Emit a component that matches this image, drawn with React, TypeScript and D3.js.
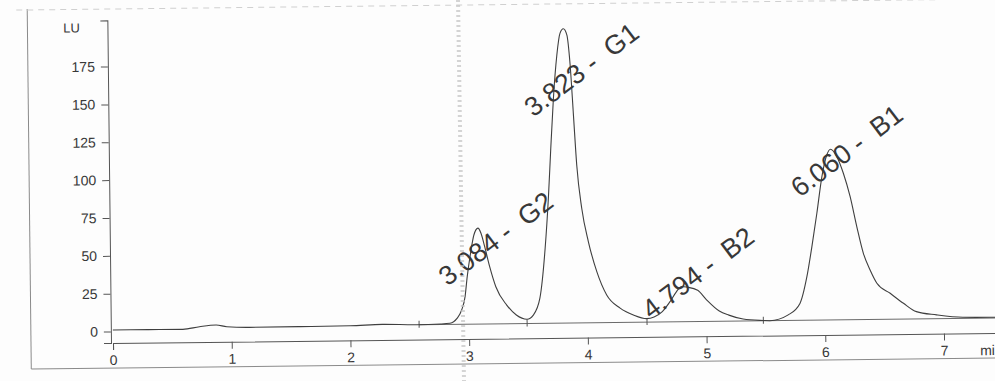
import * as d3 from "d3";
import { useEffect, useRef } from "react";

const W = 995;
const H = 381;

const COLORS = {
  paper: "#fdfdfd",
  trace: "#3f3f3f", // pen trace
  axis: "#555555",
  text: "#383838",
  frame: "#8a8a8a",
  streak: "#c4c4c4", // scanner streak
};

// signal trace: retention time (min) / signal (LU)
const traceTimes = [
  0.0, 0.3, 0.59, 0.73, 0.87, 0.96, 1.15, 1.58, 2.0, 2.27, 2.56, 2.76, 2.84,
  2.9, 2.94, 2.97, 2.99, 3.02, 3.05, 3.085, 3.11, 3.14, 3.18, 3.23, 3.32, 3.4,
  3.49, 3.543, 3.6, 3.649, 3.681, 3.706, 3.733, 3.766, 3.795, 3.823, 3.852,
  3.877, 3.9, 3.923, 3.961, 4.014, 4.082, 4.163, 4.275, 4.386, 4.497, 4.56,
  4.63, 4.7, 4.75, 4.794, 4.84, 4.93, 5.0, 5.11, 5.19, 5.31, 5.48, 5.535,
  5.69, 5.79, 5.851, 5.896, 5.941, 5.987, 6.03, 6.062, 6.115, 6.168, 6.223,
  6.276, 6.329, 6.384, 6.44, 6.551, 6.662, 6.77, 6.94, 7.16, 7.39, 7.5,
];
const traceValues = [
  1.0, 1.0, 0.9, 2.5, 3.5, 2.3, 1.7, 1.8, 2.0, 2.7, 2.2, 2.5, 2.9, 6.1, 11.6,
  20.4, 33.6, 48.9, 61.0, 65.5, 62.1, 53.2, 40.0, 26.7, 14.5, 7.9, 5.0, 7.7,
  18.8, 51.7, 84.7, 117.7, 150.7, 179.3, 193.7, 196.5, 192.5, 172.6, 139.6,
  106.5, 77.9, 55.7, 35.9, 20.4, 11.6, 7.0, 4.5, 5.5, 9.0, 16.0, 22.0, 25.5,
  25.0, 22.8, 16.8, 9.0, 6.2, 3.5, 2.4, 2.2, 5.9, 13.4, 31.0, 50.8, 72.8,
  97.0, 111.2, 115.0, 110.0, 99.0, 83.5, 63.7, 46.0, 34.9, 26.1, 19.4, 12.7,
  7.1, 4.8, 3.0, 2.8, 2.8,
];

// peak annotations
const peakTimes = [3.084, 3.823, 4.794, 6.06];
const peakNames = ["G2", "G1", "B2", "B1"];
const labelLevels = [27, 138, 3.5, 83]; // LU where each label text begins

// integration baseline and its start/stop marks
const baselineTimes = [2.58, 7.5];
const baselineValues = [2.2, 2.3];
const markerTimes = [2.58, 3.49, 4.5, 5.48];

const xMajor = [0, 1, 2, 3, 4, 5, 6, 7];
const yMajor = [0, 25, 50, 75, 100, 125, 150, 175];

const App = () => {
  const svgRef = useRef<SVGSVGElement>(null);

  useEffect(() => {
    const svg = d3.select(svgRef.current);
    svg.selectAll("*").remove();

    const x = d3.scaleLinear().domain([0, 7]).range([113, 944]);
    const y = d3.scaleLinear().domain([0, 175]).range([331.5, 66.5]);
    const xAxisScale = x.copy().domain([0, 7.5]).range([x(0), x(7.5)]);
    const yAxisScale = y
      .copy()
      .domain([-7.6, 205.5])
      .range([y(-7.6), y(205.5)]);
    const axisY = y(-7.6);
    const axisX = 111;
    const font = "'Liberation Sans', Arial, sans-serif";

    svg
      .append("rect")
      .attr("width", W)
      .attr("height", H)
      .attr("fill", COLORS.paper);

    // the scan is slightly tilted
    const g = svg.append("g").attr("transform", `rotate(-0.65, 113, ${axisY})`);

    // paper frame
    g.append("line")
      .attr("x1", 31).attr("x2", 31).attr("y1", 8).attr("y2", 368)
      .attr("stroke", COLORS.frame).attr("stroke-width", 1);
    g.append("line")
      .attr("x1", 31).attr("x2", 1010).attr("y1", 368).attr("y2", 368)
      .attr("stroke", COLORS.frame).attr("stroke-width", 1);
    g.append("line")
      .attr("x1", 20).attr("x2", 1010).attr("y1", 9).attr("y2", 9)
      .attr("stroke", "#d0d0d0").attr("stroke-width", 1)
      .attr("stroke-dasharray", "6,5");

    // x axis
    const xMinor = d3.range(0, 7.5, 0.2).filter((t) => Math.abs(t - Math.round(t)) > 0.01);
    const xa = g.append("g").attr("transform", `translate(0, ${axisY})`);
    xa.call(
      d3.axisBottom(xAxisScale).tickValues(xMinor).tickSize(4).tickFormat(() => "")
    );
    xa.call(
      d3.axisBottom(xAxisScale).tickValues(xMajor).tickSize(7).tickPadding(5).tickFormat(d3.format("d"))
    );
    xa.selectAll("path, line").attr("stroke", COLORS.axis);
    xa.selectAll("text")
      .attr("fill", COLORS.text)
      .style("font-size", "14px")
      .style("font-family", font);

    // axis unit, cut by the right edge as on the scan
    g.append("text")
      .attr("x", 980)
      .attr("y", axisY + 22)
      .attr("fill", COLORS.text)
      .style("font-size", "14px")
      .style("font-family", font)
      .text("min");

    // y axis
    const yMinor = d3.range(-5, 206, 5).filter((v) => v % 25 !== 0);
    const ya = g.append("g").attr("transform", `translate(${axisX}, 0)`);
    ya.call(
      d3.axisLeft(yAxisScale).tickValues(yMinor).tickSize(3.5).tickFormat(() => "")
    );
    ya.call(
      d3.axisLeft(yAxisScale).tickValues(yMajor).tickSize(7).tickPadding(6).tickFormat(d3.format("d"))
    );
    ya.selectAll("path, line").attr("stroke", COLORS.axis);
    ya.selectAll("text")
      .attr("fill", COLORS.text)
      .style("font-size", "14px")
      .style("font-family", font);

    g.append("text")
      .attr("x", 75)
      .attr("y", 32)
      .attr("text-anchor", "middle")
      .attr("fill", COLORS.text)
      .style("font-size", "13px")
      .style("font-family", font)
      .text("LU");

    // integration baseline
    const base = d3.zip(baselineTimes, baselineValues) as [number, number][];
    g.append("path")
      .attr("d", d3.line().x((d) => x(d[0])).y((d) => y(d[1]))(base))
      .attr("fill", "none")
      .attr("stroke", "#6a6a6a")
      .attr("stroke-width", 1);

    const baseAt = d3.scaleLinear().domain(baselineTimes).range(baselineValues);
    g.selectAll(".marker")
      .data(markerTimes)
      .enter()
      .append("line")
      .attr("x1", (d) => x(d))
      .attr("x2", (d) => x(d))
      .attr("y1", (d) => y(baseAt(d)) - 4)
      .attr("y2", (d) => y(baseAt(d)) + 3)
      .attr("stroke", "#555")
      .attr("stroke-width", 1);

    // signal trace
    const pts = d3.zip(traceTimes, traceValues) as [number, number][];
    const line = d3
      .line<[number, number]>()
      .x((d) => x(d[0]))
      .y((d) => y(d[1]))
      .curve(d3.curveMonotoneX);
    g.append("path")
      .attr("d", line(pts))
      .attr("fill", "none")
      .attr("stroke", COLORS.trace)
      .attr("stroke-width", 1.1);

    // peak labels
    peakTimes.forEach((t, i) => {
      const lx = x(t) - 31;
      const ly = y(labelLevels[i]);
      g.append("text")
        .attr("transform", `translate(${lx}, ${ly}) rotate(-36.5)`)
        .attr("fill", COLORS.text)
        .style("font-size", "27px")
        .style("font-family", font)
        .style("white-space", "pre")
        .text(`${t.toFixed(3)} -  ${peakNames[i]}`);
    });

    // scanner streak
    svg
      .append("line")
      .attr("x1", 458).attr("x2", 464).attr("y1", 0).attr("y2", H)
      .attr("stroke", COLORS.streak)
      .attr("stroke-width", 4)
      .attr("stroke-dasharray", "2,3")
      .attr("opacity", 0.7);
  }, []);

  return (
    <svg
      ref={svgRef}
      width={W}
      height={H}
      style={{ position: "absolute", left: 0, top: 0, display: "block" }}
    />
  );
};

export default App;
